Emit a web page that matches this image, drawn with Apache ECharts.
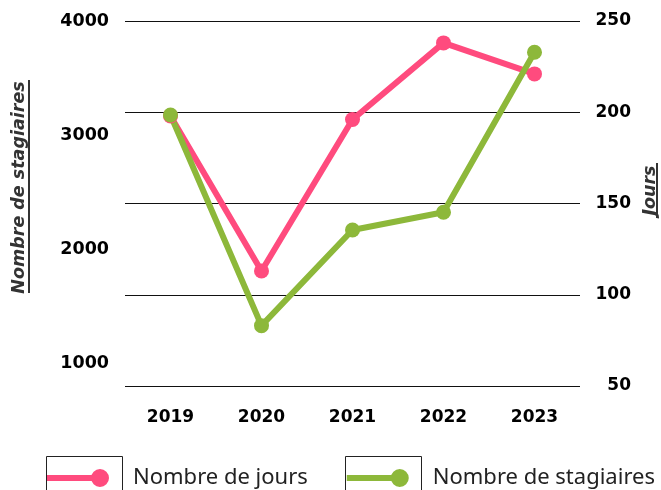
<!DOCTYPE html>
<html>
<head>
<meta charset="utf-8">
<script src="https://cdn.jsdelivr.net/npm/echarts@6/dist/echarts.min.js"></script>
<style>
  html, body { margin: 0; padding: 0; background: #fff; }
  #chart { width: 661px; height: 490px; }
</style>
</head>
<body>
<div id="chart"></div>
<script>
// années
var years = ["2019", "2020", "2021", "2022", "2023"];
// Nombre de jours (axe de droite)
var jours = [198, 113, 196, 238, 221];
// Nombre de stagiaires (axe de gauche)
var stagiaires = [3176, 1329, 2168, 2323, 3726];
// graduations
var leftTicks = [1000, 2000, 3000, 4000];

var pink = "#ff4b7e";
var green = "#8db83a";

// icone de légende : trait + rond à droite
var legendIcon = "path://M0,6h53v6h-53z M53,0a9,9 0 1,1 0,18a9,9 0 1,1 0,-18z";

var chart = echarts.init(document.getElementById("chart"));
chart.setOption({
  animation: false,
  textStyle: { fontFamily: "DejaVu Sans" },
  grid: { left: 125, right: 81, top: 21, bottom: 104, outerBoundsMode: "none", containLabel: false },
  legend: {
    left: 47,
    top: 467,
    padding: 0,
    itemWidth: 62,
    itemHeight: 18,
    itemGap: 39,
    icon: legendIcon,
    textStyle: {
      fontFamily: "Noto Sans",
      fontSize: 22,
      color: "#222",
      padding: [0, 0, 0, 19]
    },
    data: ["Nombre de jours", "Nombre de stagiaires"]
  },
  xAxis: {
    type: "category",
    data: years,
    axisLine: { show: false },
    axisTick: { show: false },
    axisLabel: { color: "#000", fontWeight: "bold", fontSize: 17, margin: 23 }
  },
  yAxis: [
    {
      type: "value",
      min: 800,
      max: 4000,
      name: "Nombre de stagiaires",
      nameLocation: "middle",
      nameRotate: 90,
      nameGap: 97,
      nameTextStyle: {
        fontWeight: "bold",
        fontStyle: "italic",
        fontSize: 17.5,
        color: "#333",
        padding: [0, 0, 0, 32]
      },
      axisLine: { show: false },
      axisTick: { show: false },
      splitLine: { show: false },
      axisLabel: {
        customValues: leftTicks,
        formatter: function (v) { return String(v); },
        color: "#000",
        fontWeight: "bold",
        fontSize: 17.5,
        margin: 16
      }
    },
    {
      type: "value",
      min: 50,
      max: 250,
      interval: 50,
      name: "Jours",
      nameLocation: "middle",
      nameRotate: 90,
      nameGap: 55,
      nameTextStyle: {
        fontWeight: "bold",
        fontStyle: "italic",
        fontSize: 17.5,
        color: "#333",
        padding: [0, 0, 0, 26]
      },
      axisLine: { show: false },
      axisTick: { show: false },
      splitLine: { show: true, lineStyle: { color: "#111", width: 1 } },
      axisLabel: {
        color: "#000",
        fontWeight: "bold",
        fontSize: 17,
        margin: 51,
        align: "right"
      }
    }
  ],
  series: [
    {
      name: "Nombre de jours",
      type: "line",
      yAxisIndex: 1,
      data: jours,
      symbol: "circle",
      symbolSize: 15,
      color: pink,
      lineStyle: { width: 6, color: pink },
      itemStyle: { color: pink }
    },
    {
      name: "Nombre de stagiaires",
      type: "line",
      yAxisIndex: 0,
      data: stagiaires,
      symbol: "circle",
      symbolSize: 15,
      color: green,
      lineStyle: { width: 6, color: green },
      itemStyle: { color: green }
    }
  ],
  graphic: [
    // soulignements des titres d'axes
    { type: "rect", left: 28, top: 80, shape: { width: 2, height: 213 }, style: { fill: "#333" } },
    { type: "rect", left: 656, top: 163, shape: { width: 2, height: 55 }, style: { fill: "#333" } },
    // cadres de la légende
    { type: "rect", shape: { x: 46.5, y: 456.5, width: 76, height: 50 }, style: { fill: null, stroke: "#222", lineWidth: 1 } },
    { type: "rect", shape: { x: 345.5, y: 456.5, width: 76, height: 50 }, style: { fill: null, stroke: "#222", lineWidth: 1 } }
  ]
});
</script>
</body>
</html>
